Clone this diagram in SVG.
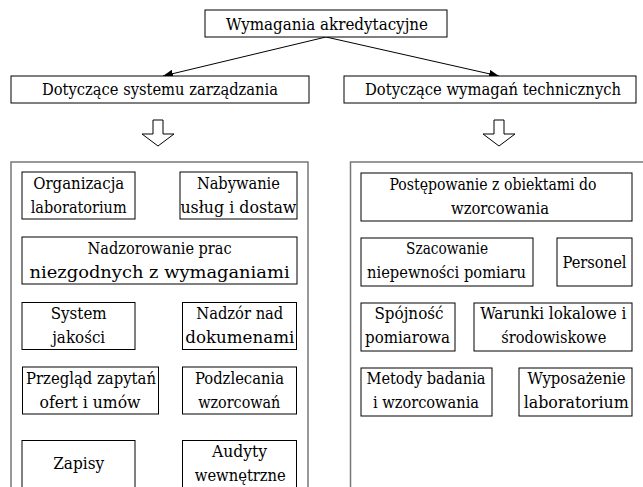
<svg xmlns="http://www.w3.org/2000/svg" width="643" height="487" viewBox="0 0 643 487">
<style>
.b{fill:#fff;stroke:#000;stroke-width:1}
.c{fill:#fff;stroke:#777;stroke-width:1.5}
.t{font-family:'DejaVu Serif Condensed','DejaVu Serif','Noto Serif',serif;font-size:17px;fill:#000;text-anchor:middle}
.h{font-size:16.5px}
.e{fill:none;stroke:#000;stroke-width:1}
.ha{fill:#fff;stroke:#000;stroke-width:1}
</style>
<defs>
<marker id="ar" markerWidth="10" markerHeight="8" refX="10" refY="4" orient="auto" markerUnits="userSpaceOnUse">
<path d="M0,0 L10,4 L0,8 z" fill="#000"/>
</marker>
</defs>
<rect width="643" height="487" fill="#fff"/>
<g id="edges">
<line class="e" x1="326" y1="37" x2="163" y2="76" marker-end="url(#ar)"/>
<line class="e" x1="326" y1="37" x2="499" y2="76" marker-end="url(#ar)"/>
<polygon class="ha" points="153,120 163,120 163,134 174,134 158,146 142,134 153,134"/>
<polygon class="ha" points="494,120 504,120 504,134 515,134 499,146 483,134 494,134"/>
</g>
<g id="root"><rect class="b" x="205" y="10" width="242" height="27"/><text class="t h" x="327" y="30" textLength="202" lengthAdjust="spacingAndGlyphs">Wymagania akredytacyjne</text></g>
<g id="mgmt"><rect class="b" x="11" y="76" width="298" height="27"/><text class="t h" x="160" y="95" textLength="236" lengthAdjust="spacingAndGlyphs">Dotyczące systemu zarządzania</text></g>
<g id="tech"><rect class="b" x="344" y="76" width="292" height="27"/><text class="t h" x="493" y="95" textLength="256" lengthAdjust="spacingAndGlyphs">Dotyczące wymagań technicznych</text></g>
<g id="left-container"><rect class="c" x="11" y="162" width="297" height="340"/></g>
<g id="right-container"><rect class="c" x="350.5" y="162" width="300" height="340"/></g>
<g id="n1"><rect class="b" x="22" y="172" width="113" height="47"/><text class="t" x="78.7" y="188.5" textLength="91" lengthAdjust="spacingAndGlyphs">Organizacja</text><text class="t" x="78.7" y="212.5" textLength="96" lengthAdjust="spacingAndGlyphs">laboratorium</text></g>
<g id="n2"><rect class="b" x="180" y="172" width="117" height="47"/><text class="t" x="238.4" y="188.5" textLength="83" lengthAdjust="spacingAndGlyphs">Nabywanie</text><text class="t" x="238.4" y="212.5" textLength="116" lengthAdjust="spacingAndGlyphs">usług i dostaw</text></g>
<g id="n3"><rect class="b" x="22" y="237" width="275" height="47"/><text class="t" x="159.6" y="253.5" textLength="144" lengthAdjust="spacingAndGlyphs">Nadzorowanie prac</text><text class="t" x="159.6" y="277.5" textLength="260" lengthAdjust="spacingAndGlyphs">niezgodnych z wymaganiami</text></g>
<g id="n4"><rect class="b" x="22" y="302.5" width="113" height="47"/><text class="t" x="78.7" y="319" textLength="56" lengthAdjust="spacingAndGlyphs">System</text><text class="t" x="78.7" y="343" textLength="53" lengthAdjust="spacingAndGlyphs">jakości</text></g>
<g id="n5"><rect class="b" x="182.5" y="302.5" width="114" height="47"/><text class="t" x="239.8" y="319" textLength="87" lengthAdjust="spacingAndGlyphs">Nadzór nad</text><text class="t" x="239.8" y="343" textLength="109" lengthAdjust="spacingAndGlyphs">dokumenami</text></g>
<g id="n6"><rect class="b" x="22.5" y="367" width="136" height="47"/><text class="t" x="91" y="383.5" textLength="130" lengthAdjust="spacingAndGlyphs">Przegląd zapytań</text><text class="t" x="90" y="407.5" textLength="101" lengthAdjust="spacingAndGlyphs">ofert i umów</text></g>
<g id="n7"><rect class="b" x="182.5" y="367" width="114" height="47"/><text class="t" x="239.5" y="383.5" textLength="89" lengthAdjust="spacingAndGlyphs">Podzlecania</text><text class="t" x="239.3" y="407.5" textLength="82" lengthAdjust="spacingAndGlyphs">wzorcowań</text></g>
<g id="n8"><rect class="b" x="22" y="440.5" width="113" height="60"/><text class="t" x="78.7" y="469" textLength="51" lengthAdjust="spacingAndGlyphs">Zapisy</text></g>
<g id="n9"><rect class="b" x="182.5" y="440.5" width="114" height="60"/><text class="t" x="239.5" y="457" textLength="55" lengthAdjust="spacingAndGlyphs">Audyty</text><text class="t" x="240.3" y="480.5" textLength="91" lengthAdjust="spacingAndGlyphs">wewnętrzne</text></g>
<g id="m1"><rect class="b" x="361" y="173" width="271" height="48"/><text class="t" x="493" y="189.5" textLength="207" lengthAdjust="spacingAndGlyphs">Postępowanie z obiektami do</text><text class="t" x="500" y="213.5" textLength="98" lengthAdjust="spacingAndGlyphs">wzorcowania</text></g>
<g id="m2"><rect class="b" x="361" y="238" width="172" height="48"/><text class="t" x="447" y="254" textLength="82" lengthAdjust="spacingAndGlyphs">Szacowanie</text><text class="t" x="446.5" y="278" textLength="159" lengthAdjust="spacingAndGlyphs">niepewności pomiaru</text></g>
<g id="m3"><rect class="b" x="557" y="238" width="75" height="48"/><text class="t" x="594.5" y="268" textLength="64" lengthAdjust="spacingAndGlyphs">Personel</text></g>
<g id="m4"><rect class="b" x="361" y="303" width="94" height="48"/><text class="t" x="409" y="319" textLength="69" lengthAdjust="spacingAndGlyphs">Spójność</text><text class="t" x="407.5" y="343" textLength="85" lengthAdjust="spacingAndGlyphs">pomiarowa</text></g>
<g id="m5"><rect class="b" x="474" y="303" width="158" height="48"/><text class="t" x="553.3" y="319" textLength="146" lengthAdjust="spacingAndGlyphs">Warunki lokalowe i</text><text class="t" x="553.8" y="343" textLength="105" lengthAdjust="spacingAndGlyphs">środowiskowe</text></g>
<g id="m6"><rect class="b" x="361" y="368" width="131" height="48"/><text class="t" x="426" y="384" textLength="119" lengthAdjust="spacingAndGlyphs">Metody badania</text><text class="t" x="426" y="408" textLength="106" lengthAdjust="spacingAndGlyphs">i wzorcowania</text></g>
<g id="m7"><rect class="b" x="519" y="368" width="113" height="48"/><text class="t" x="576.5" y="384" textLength="98" lengthAdjust="spacingAndGlyphs">Wyposażenie</text><text class="t" x="576.2" y="408" textLength="105" lengthAdjust="spacingAndGlyphs">laboratorium</text></g>
</svg>
